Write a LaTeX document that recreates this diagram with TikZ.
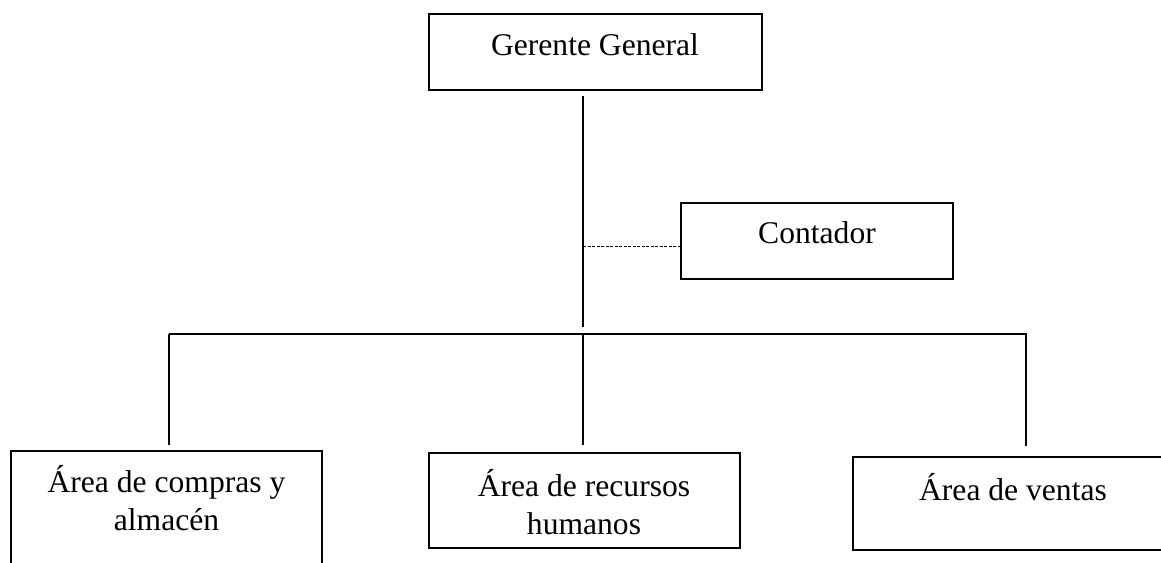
\documentclass[tikz,border=0pt]{standalone}
\usepackage{fontspec}
\setmainfont{Liberation Serif}
\begin{document}
\begin{tikzpicture}[x=1pt,y=-1pt,
  box/.style={draw=black, line width=2.6pt, inner sep=0pt},
  txt/.style={inner sep=0pt, align=center, anchor=base, font=\fontsize{31.6pt}{38.5pt}\selectfont},
  conn/.style={draw=black, line width=1.3pt},
  dashconn/.style={draw=black, line width=1pt, dash pattern=on 3pt off 1.5pt}]
\useasboundingbox (0,0) rectangle (1161,562);
\clip (0,0) rectangle (1161,562);
% boxes
\node[box, minimum width=333pt, minimum height=76pt] (gg) at (595.5,52) {};
\node[txt] (ggt) at (595,55) {Gerente General};
\node[box, minimum width=272pt, minimum height=76pt] (ct) at (817,241) {};
\node[txt] (ctt) at (817,243) {Contador};
\node[box, minimum width=311pt, minimum height=160pt] (ca) at (166.5,531) {};
\node[txt] (cat) at (166.5,530.5) {Área de compras y\\almacén};
\node[box, minimum width=311pt, minimum height=95pt] (rh) at (584.5,500.5) {};
\node[txt] (rht) at (584,534.5) {Área de recursos\\humanos};
\node[box, minimum width=320pt, minimum height=93pt] (av) at (1013,503.5) {};
\node[txt] (avt) at (1013,500) {Área de ventas};
% junctions
\coordinate (mTop) at (583,96);
\coordinate (mEnd) at (583,327);
\coordinate (dL) at (583,246);
\coordinate (jL) at (169,334);
\coordinate (jM) at (583,334);
\coordinate (jR) at (1026,334);
% connectors
\draw[conn, line width=1.7pt] (mTop) -- (mEnd);
\draw[dashconn] (dL) -- (dL -| ct.west);
\draw[conn] (jL) -- (jR);
\draw[conn, shorten >=5pt] (jL) -- (jL |- ca.north);
\draw[conn, shorten >=7pt] (jM) -- (jM |- rh.north);
\draw[conn, shorten >=10pt] ([yshift=1pt]jR) -- (jR |- av.north);
\end{tikzpicture}
\end{document}
